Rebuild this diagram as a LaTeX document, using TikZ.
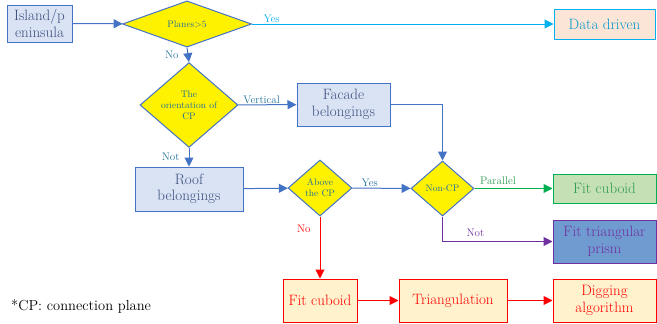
\documentclass[tikz,border=0pt]{standalone}
\usetikzlibrary{shapes.geometric,arrows.meta}

\definecolor{lineblue}{HTML}{4472C4}
\definecolor{boxfill}{HTML}{DAE3F3}
\definecolor{boxtext}{HTML}{3B4E80}
\definecolor{dectext}{HTML}{1F6E9A}
\definecolor{cyanline}{HTML}{00B0F0}
\definecolor{peach}{HTML}{FBE5D6}
\definecolor{greenline}{HTML}{00B050}
\definecolor{greenfill}{HTML}{C5E0B4}
\definecolor{greentext}{HTML}{2E9A50}
\definecolor{purpleline}{HTML}{7030A0}
\definecolor{prismfill}{HTML}{6F9BD0}
\definecolor{redfill}{HTML}{FFF2CC}

\tikzset{
  box/.style={draw=lineblue, fill=boxfill, text=boxtext, line width=1pt,
    align=center, inner sep=1pt, font=\fontsize{15}{16.5}\selectfont},
  decision/.style={diamond, draw=lineblue, fill=yellow, text=dectext,
    line width=1pt, align=center, inner sep=0pt, font=\fontsize{9.5}{11}\selectfont},
  arr/.style={-{Triangle[length=9pt,width=9pt]}, line width=1pt},
  lbl/.style={font=\fontsize{11}{12}\selectfont, inner sep=1pt}
}

\begin{document}
\begin{tikzpicture}[x=1pt,y=-1pt]
      \useasboundingbox (0,0) rectangle (657,324);

      % first row
      \node[box, minimum width=65pt, minimum height=37pt] (island) at (39.5,23.5) {Island/p\\eninsula};
      \node[decision, minimum width=129pt, minimum height=42pt] (planes) at (187,24) {Planes>5};
      \node[box, draw=cyanline, fill=peach, text=cyanline!85!black, minimum width=101pt, minimum height=30pt] (data) at (604.5,24) {Data driven};

      % orientation of the connection plane
      \node[decision, minimum width=98pt, minimum height=72pt] (orient) at (189,105) {The\\orientation of\\CP};
      \node[box, minimum width=93pt, minimum height=43pt] (facade) at (343.5,104.5) {Facade\\belongings};
      \node[box, minimum width=108pt, minimum height=44pt] (roof) at (189,189) {Roof\\belongings};

      % second level decisions
      \node[decision, minimum width=64pt, minimum height=56pt] (above) at (320,188) {Above\\the CP};
      \node[decision, minimum width=63pt, minimum height=55pt] (noncp) at (442.5,188.5) {Non-CP};

      % outcomes
      \node[box, draw=greenline, fill=greenfill, text=greentext, minimum width=103pt, minimum height=29pt] (cuboidA) at (604.5,188.5) {Fit cuboid};
      \node[box, draw=purpleline, fill=prismfill, text=purpleline, minimum width=103pt, minimum height=43pt] (prism) at (604.5,241.5) {Fit triangular\\prism};
      \node[box, draw=red, fill=redfill, text=red, minimum width=74pt, minimum height=43pt] (cuboidB) at (320,300.5) {Fit cuboid};
      \node[box, draw=red, fill=redfill, text=red, minimum width=108pt, minimum height=43pt] (triang) at (453,300.5) {Triangulation};
      \node[box, draw=red, fill=redfill, text=red, minimum width=103pt, minimum height=43pt] (digging) at (604.5,300.5) {Digging\\algorithm};

      \node[anchor=west, inner sep=0pt, font=\fontsize{14.5}{16}\selectfont] (note) at (11,306) {*CP: connection plane};

      % connectors
      \draw[arr, lineblue] (island) -- (planes);
      \draw[arr, cyanline] (planes) -- node[lbl, above, pos=0.065, text=cyanline] {Yes} (data);
      \draw[arr, lineblue] (planes.south) -- node[lbl, left=8pt, text=dectext] {No} (orient.north);
      \draw[arr, lineblue] (orient) -- node[lbl, above, pos=0.4, text=dectext] {Vertical} (facade);
      \draw[arr, lineblue] (orient.south) -- node[lbl, left=8pt, text=dectext] {Not} (roof.north);
      \draw[arr, lineblue] (facade.east) -| (noncp.north);
      \draw[arr, lineblue] (roof) -- (above);
      \draw[arr, lineblue] (above) -- node[lbl, above, pos=0.3, text=dectext] {Yes} (noncp);
      \draw[arr, greenline] (noncp) -- node[lbl, above, pos=0.3, yshift=2pt, text=greentext] {Parallel} (cuboidA);
      \draw[arr, purpleline] (noncp.south) |- node[lbl, above, pos=0.65, yshift=3pt, text=purpleline] {Not} (prism.west);
      \draw[arr, red] (above.south) -- node[lbl, left=8pt, pos=0.2, text=red] {No} (cuboidB.north);
      \draw[arr, red] (cuboidB) -- (triang);
      \draw[arr, red] (triang) -- (digging);
\end{tikzpicture}
\end{document}
